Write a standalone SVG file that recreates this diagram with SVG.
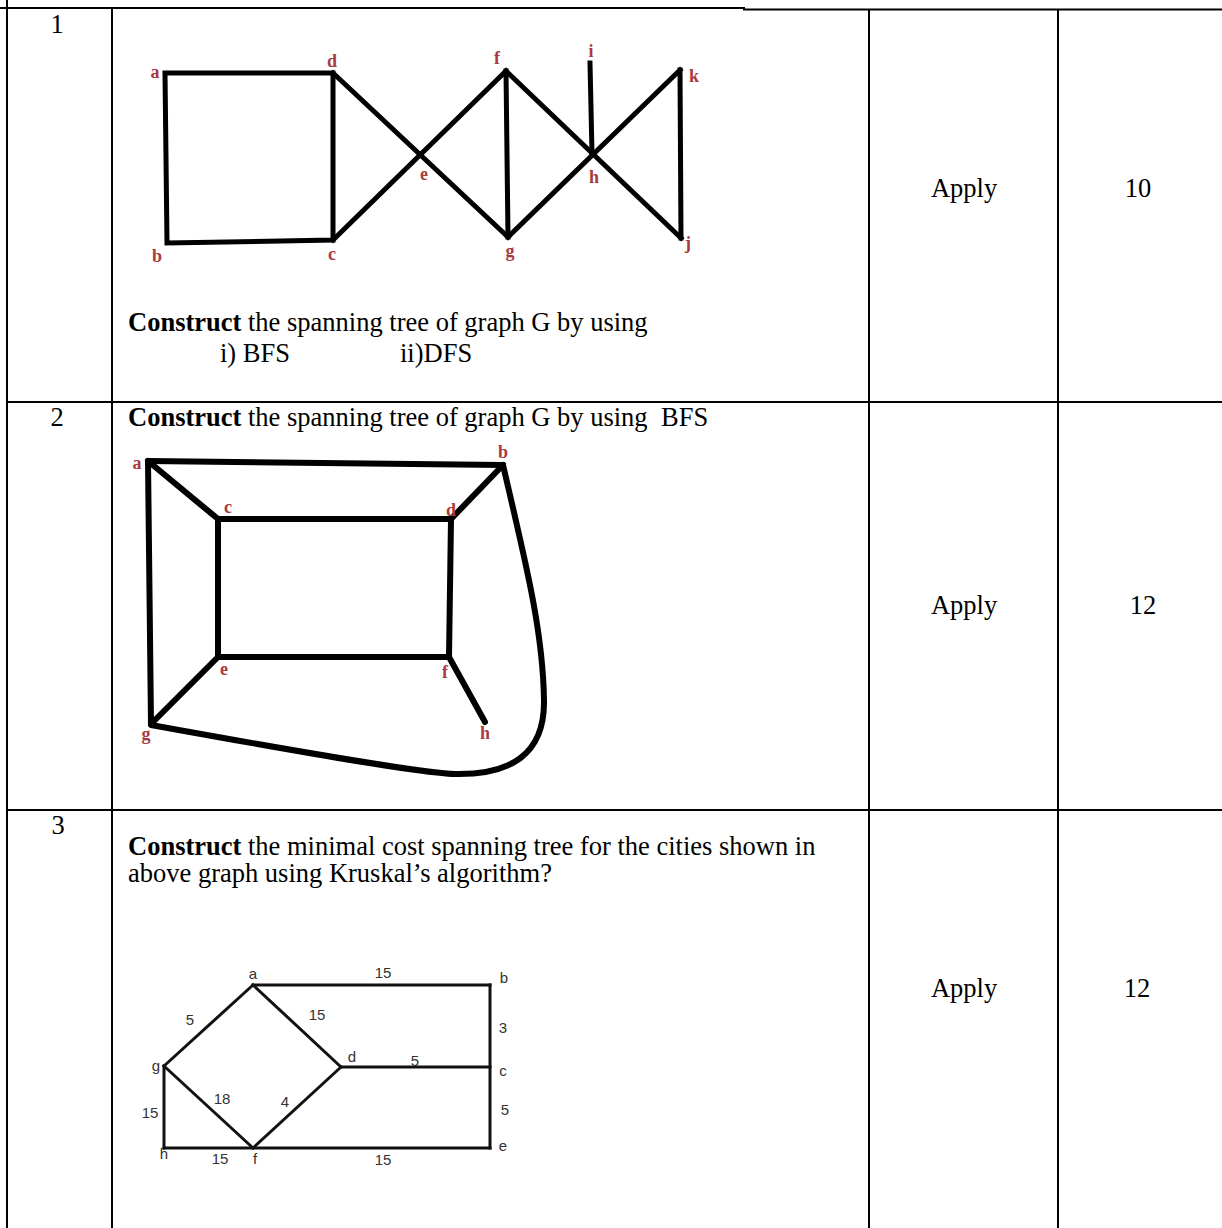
<svg xmlns="http://www.w3.org/2000/svg" width="1222" height="1228" viewBox="0 0 1222 1228">
<style>
.frame{stroke:#000;stroke-width:2;fill:none}
.txt{font-family:"Liberation Serif","Times New Roman",serif;font-size:26.5px;fill:#000}
.b{font-weight:bold}
.lbl{font-family:"Liberation Serif","Times New Roman",serif;font-size:18px;font-weight:bold;fill:#a83a40;text-anchor:middle}
.lbl3{font-family:"Liberation Sans",Arial,sans-serif;font-size:15px;fill:#333;text-anchor:middle}
.e1{stroke:#000;stroke-width:5;fill:none;stroke-linecap:square;stroke-linejoin:miter}
.e2{stroke:#000;stroke-width:6;fill:none;stroke-linecap:round;stroke-linejoin:round}
.e3{stroke:#111;stroke-width:3;fill:none;stroke-linecap:square}
.mid{text-anchor:middle}
</style>
<rect width="1222" height="1228" fill="#fff"/>
<g id="table">
<line class="frame" x1="0" y1="8" x2="745" y2="8" stroke-width="1.5"/>
<line class="frame" x1="743" y1="9.5" x2="1222" y2="9.5"/>
<line class="frame" x1="7" y1="0" x2="7" y2="1228"/>
<line class="frame" x1="112" y1="8" x2="112" y2="1228"/>
<line class="frame" x1="869" y1="9" x2="869" y2="1228"/>
<line class="frame" x1="1058" y1="9" x2="1058" y2="1228"/>
<line class="frame" x1="7" y1="402" x2="1222" y2="402"/>
<line class="frame" x1="7" y1="810" x2="1222" y2="810"/>
</g>
<g id="cells">
<text class="txt mid" x="57" y="33">1</text>
<text class="txt mid" x="57" y="426">2</text>
<text class="txt mid" x="58" y="834">3</text>
<text class="txt mid" x="964" y="197">Apply</text>
<text class="txt mid" x="964" y="614">Apply</text>
<text class="txt mid" x="964" y="997">Apply</text>
<text class="txt mid" x="1138" y="197">10</text>
<text class="txt mid" x="1143" y="614">12</text>
<text class="txt mid" x="1137" y="997">12</text>
<text class="txt" x="128" y="331"><tspan class="b">Construct</tspan> the spanning tree of graph G by using</text>
<text class="txt" x="220" y="362">i) BFS</text>
<text class="txt" x="400" y="362">ii)DFS</text>
<text class="txt" x="128" y="426"><tspan class="b">Construct</tspan> the spanning tree of graph G by using<tspan x="661">BFS</tspan></text>
<text class="txt" x="128" y="855"><tspan class="b">Construct</tspan> the minimal cost spanning tree for the cities shown in</text>
<text class="txt" x="128" y="882">above graph using Kruskal’s algorithm?</text>
</g>
<g id="graph1-edges">
<path class="e1" d="M165,73 L333,73 L333,240 L167,243 Z"/>
<line class="e1" x1="333" y1="73" x2="508" y2="237"/>
<line class="e1" x1="333" y1="240" x2="506" y2="71"/>
<line class="e1" x1="506" y1="71" x2="508" y2="237"/>
<line class="e1" x1="506" y1="71" x2="681" y2="238"/>
<line class="e1" x1="508" y1="237" x2="680" y2="70"/>
<line class="e1" x1="590" y1="63" x2="592" y2="153"/>
<line class="e1" x1="680" y1="70" x2="681" y2="238"/>
</g>
<g id="graph1-nodes">
<g id="g1-a"><text class="lbl" x="155" y="78">a</text></g>
<g id="g1-b"><text class="lbl" x="157" y="262">b</text></g>
<g id="g1-c"><text class="lbl" x="332" y="260">c</text></g>
<g id="g1-d"><text class="lbl" x="332" y="67">d</text></g>
<g id="g1-e"><text class="lbl" x="424" y="180">e</text></g>
<g id="g1-f"><text class="lbl" x="497" y="64">f</text></g>
<g id="g1-g"><text class="lbl" x="510" y="257">g</text></g>
<g id="g1-h"><text class="lbl" x="594" y="183">h</text></g>
<g id="g1-i"><text class="lbl" x="591" y="57">i</text></g>
<g id="g1-j"><text class="lbl" x="688" y="249">j</text></g>
<g id="g1-k"><text class="lbl" x="694" y="82">k</text></g>
</g>
<g id="graph2-edges">
<line class="e2" x1="148" y1="461" x2="503" y2="465"/>
<line class="e2" x1="148" y1="461" x2="218" y2="519"/>
<line class="e2" x1="148" y1="461" x2="151" y2="724"/>
<line class="e2" x1="218" y1="519" x2="451" y2="519"/>
<line class="e2" x1="503" y1="465" x2="451" y2="519"/>
<line class="e2" x1="218" y1="519" x2="218" y2="657"/>
<line class="e2" x1="451" y1="519" x2="449" y2="657"/>
<line class="e2" x1="218" y1="657" x2="449" y2="657"/>
<line class="e2" x1="218" y1="657" x2="151" y2="724"/>
<line class="e2" x1="449" y1="657" x2="485" y2="722"/>
<path class="e2" d="M503,465 C525,560 543,630 544,700 C545,755 510,775 455,774 C420,773 300,752 151,725"/>
</g>
<g id="graph2-nodes">
<g id="g2-a"><text class="lbl" x="137" y="469">a</text></g>
<g id="g2-b"><text class="lbl" x="503" y="458">b</text></g>
<g id="g2-c"><text class="lbl" x="228" y="513">c</text></g>
<g id="g2-d"><text class="lbl" x="451" y="516">d</text></g>
<g id="g2-e"><text class="lbl" x="224" y="675">e</text></g>
<g id="g2-f"><text class="lbl" x="445" y="678">f</text></g>
<g id="g2-g"><text class="lbl" x="146" y="740">g</text></g>
<g id="g2-h"><text class="lbl" x="485" y="739">h</text></g>
</g>
<g id="graph3-edges">
<line class="e3" x1="253" y1="985" x2="490" y2="985"/>
<line class="e3" x1="490" y1="985" x2="490" y2="1148"/>
<line class="e3" x1="341" y1="1067" x2="490" y2="1067"/>
<line class="e3" x1="253" y1="985" x2="341" y2="1067"/>
<line class="e3" x1="253" y1="985" x2="164" y2="1066"/>
<line class="e3" x1="164" y1="1066" x2="253" y2="1148"/>
<line class="e3" x1="341" y1="1067" x2="253" y2="1148"/>
<line class="e3" x1="164" y1="1066" x2="164" y2="1148"/>
<line class="e3" x1="164" y1="1148" x2="490" y2="1148"/>
<g class="lbl3">
<text x="383" y="978">15</text>
<text x="190" y="1025">5</text>
<text x="317" y="1020">15</text>
<text x="503" y="1033">3</text>
<text x="415" y="1066">5</text>
<text x="222" y="1104">18</text>
<text x="285" y="1107">4</text>
<text x="150" y="1118">15</text>
<text x="505" y="1115">5</text>
<text x="220" y="1164">15</text>
<text x="383" y="1165">15</text>
</g>
</g>
<g id="graph3-nodes">
<g id="g3-a"><text class="lbl3" x="253" y="979">a</text></g>
<g id="g3-b"><text class="lbl3" x="504" y="983">b</text></g>
<g id="g3-c"><text class="lbl3" x="503" y="1076">c</text></g>
<g id="g3-d"><text class="lbl3" x="352" y="1062">d</text></g>
<g id="g3-e"><text class="lbl3" x="503" y="1151">e</text></g>
<g id="g3-f"><text class="lbl3" x="255" y="1164">f</text></g>
<g id="g3-g"><text class="lbl3" x="156" y="1071">g</text></g>
<g id="g3-h"><text class="lbl3" x="164" y="1159">h</text></g>
</g>
</svg>
